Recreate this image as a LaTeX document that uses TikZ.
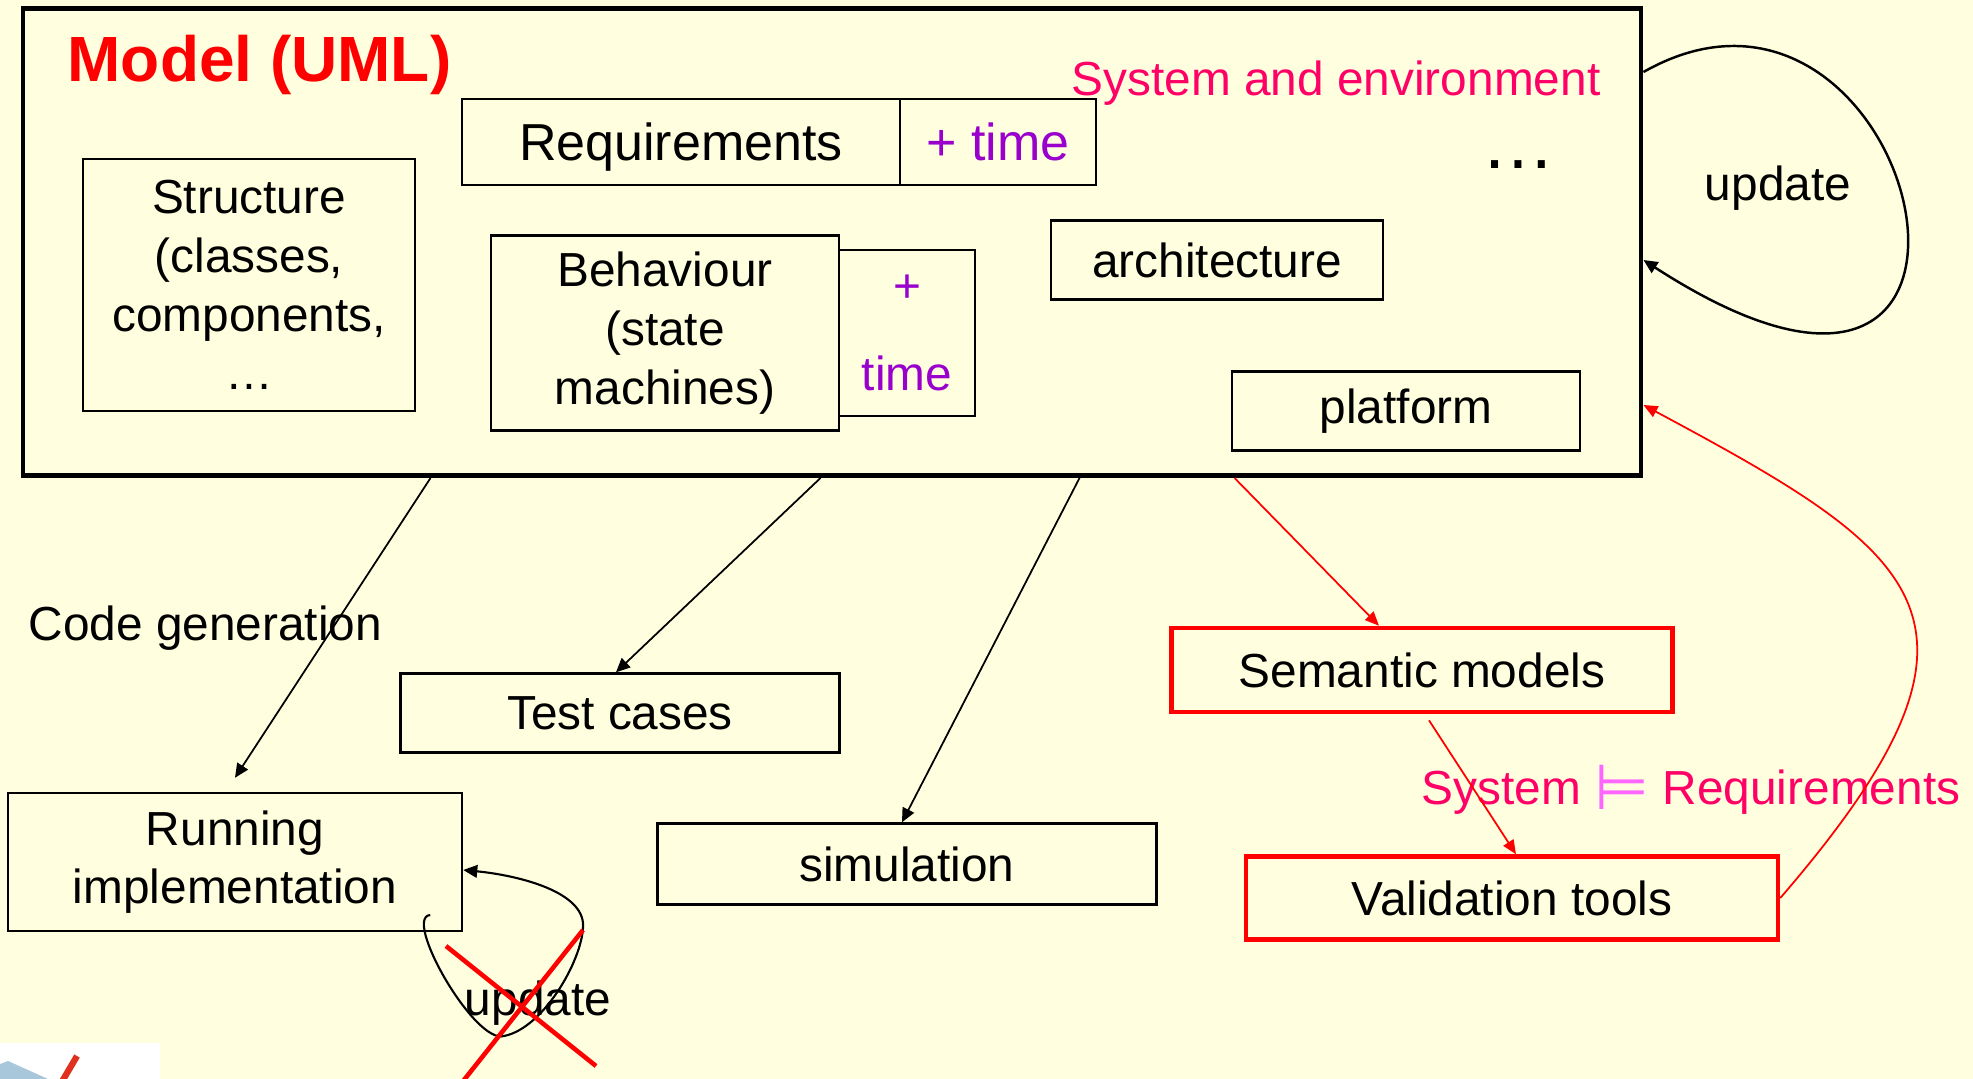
\documentclass[tikz,border=0pt]{standalone}
\usepackage{fontspec}
\setmainfont{Liberation Sans}
\newfontfamily\symfont{DejaVu Sans}
\usepackage{xcolor}
\usetikzlibrary{arrows.meta,calc}
\definecolor{paper}{HTML}{FFFFE0}
\definecolor{pinkred}{HTML}{FF0066}
\definecolor{timepurple}{HTML}{9900CC}
\definecolor{entail}{HTML}{FF66FF}
\definecolor{logoblue}{HTML}{A9C7DA}
\definecolor{logored}{HTML}{E0301E}

\begin{document}
\begin{tikzpicture}[
  font=\fontsize{13.6}{16.7}\selectfont,
  box/.style={draw, line width=0.7pt, inner sep=0pt, align=center},
  redbox/.style={box, draw=red, line width=1.3pt},
  lbl/.style={inner sep=0pt, anchor=base},
  arr/.style={-{Triangle[length=4pt,width=3.6pt]}, line width=0.5pt},
  redarr/.style={-{Triangle[length=4pt,width=3.4pt]}, line width=0.5pt, color=red}
]
  \fill[paper] (0,0) rectangle (19.73,-10.79);
  \useasboundingbox (0,0) rectangle (19.73,-10.79);

  % MODEL: outer box and its parts
  \node[box, line width=1.4pt, minimum width=16.18cm, minimum height=4.67cm] (model) at (8.32,-2.42) {};
  \node[lbl, anchor=base west, text=red, font=\fontsize{18.2}{22}\selectfont\bfseries] (title) at (0.67,-0.81) {Model (UML)};
  \node[lbl, anchor=base west, text=pinkred] (sysenv) at (10.71,-0.95) {System and environment};
  \node[lbl, font=\fontsize{21}{24}\selectfont] (more) at (15.18,-1.68) {…};

  \node[box, minimum width=4.38cm, minimum height=0.86cm, text height=13.6pt, text depth=3.1pt, font=\fontsize{14.8}{17}\selectfont] (req) at (6.81,-1.42) {Requirements};
  \node[box, minimum width=1.96cm, minimum height=0.86cm, text height=13.6pt, text depth=3.1pt, text=timepurple, font=\fontsize{14.8}{17}\selectfont] (reqtime) at (9.98,-1.42) {+ time};
  \node[box, minimum width=3.32cm, minimum height=2.52cm] (struct) at (2.49,-2.85) {Structure\\(classes,\\components,\\…};
  \node[box, minimum width=3.48cm, minimum height=1.95cm] (behav) at (6.65,-3.33) {Behaviour\\(state\\machines)};
  \node[box, minimum width=1.36cm, minimum height=1.66cm, text=timepurple] (behavtime) at (9.07,-3.33) {+\\[8.3pt]time};
  \node[box, minimum width=3.32cm, minimum height=0.79cm] (arch) at (12.17,-2.60) {architecture};
  \node[box, minimum width=3.48cm, minimum height=0.79cm] (plat) at (14.06,-4.11) {platform};

  % update loop on the model
  \draw[arr, line width=0.7pt] ([yshift=1.70cm]model.east) .. controls +(2.77,1.57) and +(4.17,-2.70) .. ([yshift=-0.18cm]model.east);
  \node[lbl] (upd) at (17.78,-2.00) {update};

  % ROW 2: generated artefacts
  \node[lbl, anchor=base west] (codegen) at (0.28,-6.40) {Code generation};
  \node[box, minimum width=4.39cm, minimum height=0.79cm] (test) at (6.20,-7.13) {Test cases};
  \node[box, minimum width=4.54cm, minimum height=1.38cm] (running) at (2.35,-8.62) {Running\\implementation};
  \node[box, minimum width=4.99cm, minimum height=0.81cm] (sim) at (9.07,-8.64) {simulation};
  \node[redbox, minimum width=5.01cm, minimum height=0.84cm] (sem) at (14.22,-6.70) {Semantic models};
  \node[redbox, minimum width=5.32cm, minimum height=0.83cm] (valid) at (15.12,-8.98) {Validation tools};
  \node[lbl, anchor=base west, text=pinkred] (entails) at (14.21,-8.04) {System {\symfont\fontsize{18}{18}\selectfont\color{entail}\raisebox{-1.5pt}{⊨}} Requirements};

  \draw[arr] ([xshift=4.10cm]model.south west) -- ([yshift=0.14cm]running.north);
  \draw[arr] ([xshift=8.00cm]model.south west) -- ([xshift=-0.04cm]test.north);
  \draw[arr] ([xshift=10.59cm]model.south west) -- ([xshift=-0.05cm]sim.north);
  \draw[redarr] ([xshift=12.14cm]model.south west) -- ([xshift=-0.43cm]sem.north);
  \draw[redarr] ([xshift=0.07cm,yshift=-0.06cm]sem.south) -- ([xshift=0.04cm]valid.north);
  \draw[redarr] (valid.east) .. controls +(2.4,2.78) and +(2.8,-1.5) .. ([yshift=-1.63cm]model.east);

  % crossed-out update loop
  \draw[arr, line width=0.6pt] ([xshift=-0.33cm,yshift=-0.53cm]running.east)
    .. controls (4.02,-9.17) and (4.75,-10.45) .. (5.04,-10.36)
    .. controls (5.45,-10.28) and (5.85,-9.55) .. (5.83,-9.23)
    .. controls (5.80,-8.90) and (5.15,-8.75) .. ([yshift=-0.08cm]running.east);
  \node[lbl] (upd2) at (5.38,-10.15) {update};
  \draw[red, line width=1.3pt] (4.46,-9.46) -- (5.96,-10.66);
  \draw[red, line width=1.3pt] (5.83,-9.30) -- (4.60,-10.85);

  % logo corner
  \fill[white] (0,-10.43) rectangle (1.60,-10.79);
  \fill[logoblue] (0,-10.64) -- (0.08,-10.61) -- (0.48,-10.79) -- (0,-10.79) -- cycle;
  \draw[logored, line width=1.8pt] (0.77,-10.56) -- (0.60,-10.85);
\end{tikzpicture}
\end{document}
